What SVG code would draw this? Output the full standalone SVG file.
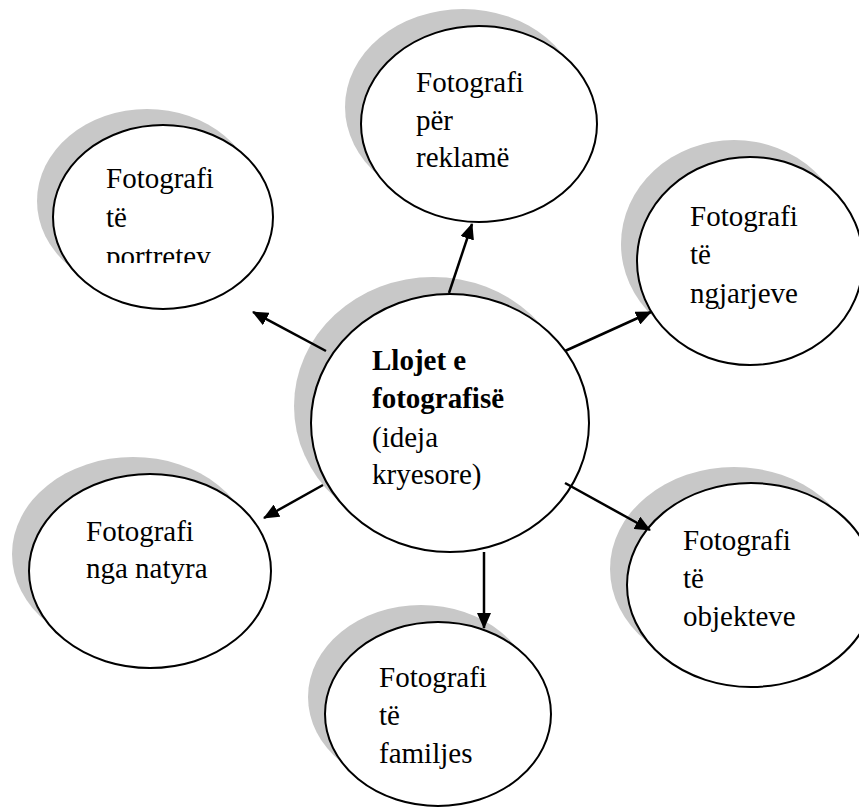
<svg xmlns="http://www.w3.org/2000/svg" width="859" height="808" viewBox="0 0 859 808">
  <style>
    .shadow { fill: #c8c8c8; stroke: none; }
    .node { fill: #ffffff; stroke: #000000; stroke-width: 2; }
    .label { font-family: "Liberation Serif", "Times New Roman", serif; font-size: 29px; fill: #000000; }
    .bold { font-weight: bold; }
    .conn { stroke: #000000; stroke-width: 2.5; fill: none; marker-end: url(#arrow); }
  </style>
  <defs>
    <marker id="arrow" viewBox="0 0 16 14" refX="15" refY="7" markerWidth="16" markerHeight="14" markerUnits="userSpaceOnUse" orient="auto">
      <path d="M0,0 L16,7 L0,14 z" fill="#000000"/>
    </marker>
    <clipPath id="clipPortret">
      <rect x="0" y="0" width="859" height="263"/>
    </clipPath>
  </defs>

  <g id="node-portretev">
    <ellipse class="shadow" cx="147" cy="201" rx="110" ry="92"/>
    <ellipse class="node" cx="163" cy="217" rx="110" ry="92"/>
    <g clip-path="url(#clipPortret)">
      <text class="label" x="106" y="188">Fotografi</text>
      <text class="label" x="106" y="227">të</text>
      <text class="label" x="106" y="266">portretev</text>
    </g>
  </g>

  <g id="node-reklame">
    <ellipse class="shadow" cx="463" cy="107" rx="118" ry="98"/>
    <ellipse class="node" cx="479" cy="124" rx="118" ry="98"/>
    <text class="label" x="416" y="92">Fotografi</text>
    <text class="label" x="416" y="130">për</text>
    <text class="label" x="416" y="167">reklamë</text>
  </g>

  <g id="node-ngjarjeve">
    <ellipse class="shadow" cx="734" cy="244" rx="113" ry="104"/>
    <ellipse class="node" cx="750" cy="261" rx="113" ry="104"/>
    <text class="label" x="690" y="226">Fotografi</text>
    <text class="label" x="690" y="264">të</text>
    <text class="label" x="690" y="303">ngjarjeve</text>
  </g>

  <g id="node-center">
    <ellipse class="shadow" cx="433" cy="406" rx="139" ry="129"/>
    <ellipse class="node" cx="450" cy="423" rx="139" ry="129"/>
    <text class="label bold" x="372" y="370">Llojet e</text>
    <text class="label bold" x="372" y="408">fotografisë</text>
    <text class="label" x="372" y="447">(ideja</text>
    <text class="label" x="372" y="484">kryesore)</text>
  </g>

  <g id="node-natyra">
    <ellipse class="shadow" cx="133" cy="554" rx="121" ry="97"/>
    <ellipse class="node" cx="150" cy="571" rx="121" ry="97"/>
    <text class="label" x="86" y="541">Fotografi</text>
    <text class="label" x="86" y="578">nga natyra</text>
  </g>

  <g id="node-objekteve">
    <ellipse class="shadow" cx="734" cy="569" rx="124" ry="102"/>
    <ellipse class="node" cx="751" cy="585" rx="124" ry="102"/>
    <text class="label" x="683" y="550">Fotografi</text>
    <text class="label" x="683" y="588">të</text>
    <text class="label" x="683" y="626">objekteve</text>
  </g>

  <g id="node-familjes">
    <ellipse class="shadow" cx="421" cy="697" rx="113" ry="92"/>
    <ellipse class="node" cx="438" cy="714" rx="113" ry="92"/>
    <text class="label" x="379" y="687">Fotografi</text>
    <text class="label" x="379" y="725">të</text>
    <text class="label" x="379" y="763">familjes</text>
  </g>

  <g id="connectors">
    <line class="conn" x1="449" y1="293" x2="472" y2="224"/>
    <line class="conn" x1="565" y1="351" x2="651" y2="312"/>
    <line class="conn" x1="326" y1="351" x2="253" y2="312"/>
    <line class="conn" x1="323" y1="485" x2="264" y2="518"/>
    <line class="conn" x1="565" y1="483" x2="650" y2="530"/>
    <line class="conn" x1="484" y1="552" x2="484" y2="628"/>
  </g>
</svg>
